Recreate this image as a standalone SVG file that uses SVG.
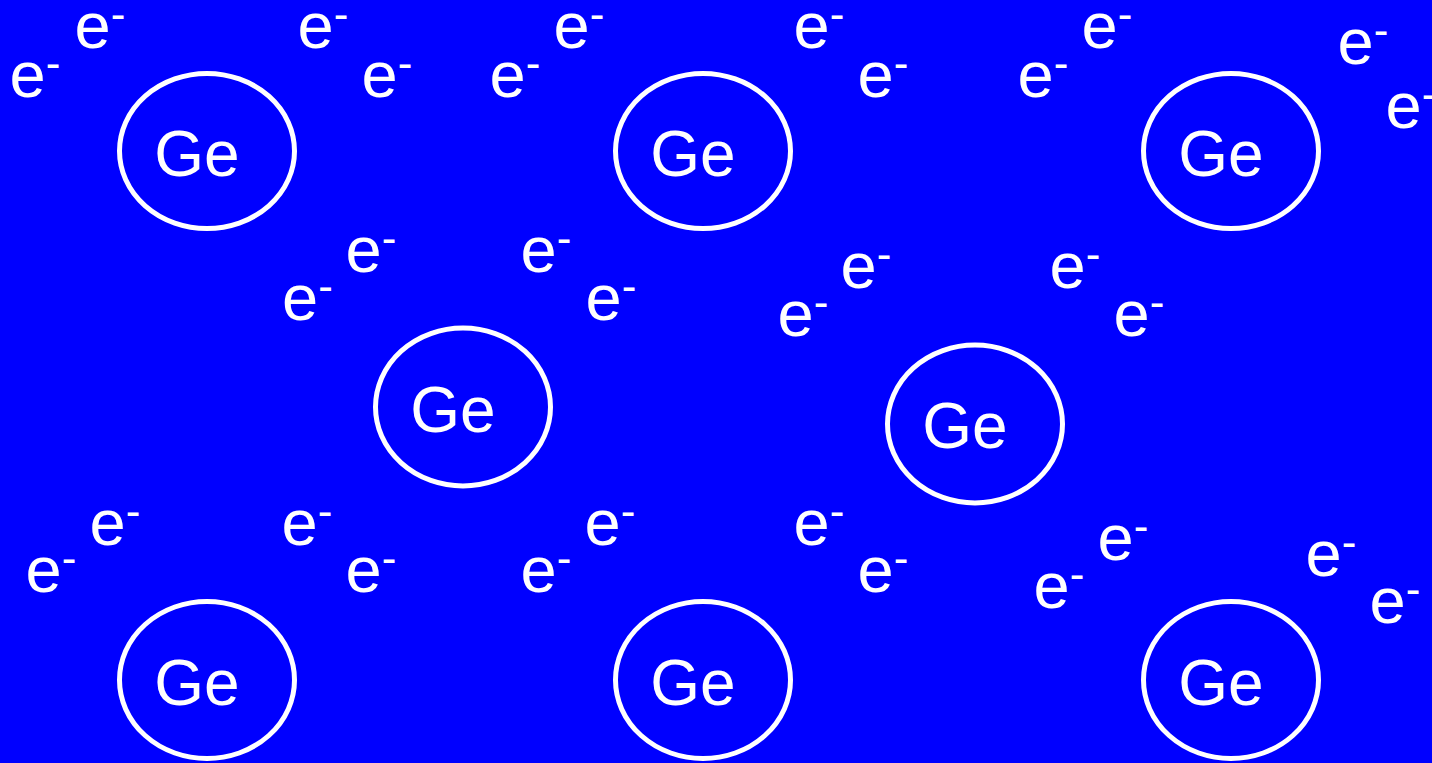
<svg xmlns="http://www.w3.org/2000/svg" width="1432" height="763" viewBox="0 0 1432 763">
<style>
.atom{fill:none;stroke:#fff;stroke-width:5}
.lbl{font-family:"Liberation Sans",Arial,sans-serif;font-size:64px;fill:#fff;text-anchor:middle}
.el{font-family:"Liberation Sans",Arial,sans-serif;font-size:65px;fill:#fff}
.sup{font-size:44px}
</style>
<rect width="1432" height="763" fill="#0000ff"/>
<g id="ge1"><ellipse class="atom" cx="207" cy="151" rx="87.5" ry="77.5"/><text class="lbl" x="197" y="176">Ge</text></g>
<g id="ge2"><ellipse class="atom" cx="703" cy="151" rx="87.5" ry="77.5"/><text class="lbl" x="693" y="176">Ge</text></g>
<g id="ge3"><ellipse class="atom" cx="1231" cy="151" rx="87.5" ry="77.5"/><text class="lbl" x="1221" y="176">Ge</text></g>
<g id="ge4"><ellipse class="atom" cx="463" cy="407" rx="87.5" ry="79"/><text class="lbl" x="453" y="432">Ge</text></g>
<g id="ge5"><ellipse class="atom" cx="975" cy="424" rx="87.5" ry="79"/><text class="lbl" x="965" y="448">Ge</text></g>
<g id="ge6"><ellipse class="atom" cx="207" cy="680" rx="87.5" ry="78.5"/><text class="lbl" x="197" y="705">Ge</text></g>
<g id="ge7"><ellipse class="atom" cx="703" cy="680" rx="87.5" ry="78.5"/><text class="lbl" x="693" y="705">Ge</text></g>
<g id="ge8"><ellipse class="atom" cx="1231" cy="680" rx="87.5" ry="78.5"/><text class="lbl" x="1221" y="705">Ge</text></g>
<g id="electrons">
<text class="el" x="9.5" y="97">e<tspan class="sup" dy="-19">-</tspan></text>
<text class="el" x="74.5" y="48">e<tspan class="sup" dy="-19">-</tspan></text>
<text class="el" x="297.5" y="48">e<tspan class="sup" dy="-19">-</tspan></text>
<text class="el" x="361.5" y="97">e<tspan class="sup" dy="-19">-</tspan></text>
<text class="el" x="489.5" y="97">e<tspan class="sup" dy="-19">-</tspan></text>
<text class="el" x="553.5" y="48">e<tspan class="sup" dy="-19">-</tspan></text>
<text class="el" x="793.5" y="48">e<tspan class="sup" dy="-19">-</tspan></text>
<text class="el" x="857.5" y="97">e<tspan class="sup" dy="-19">-</tspan></text>
<text class="el" x="1017.5" y="97">e<tspan class="sup" dy="-19">-</tspan></text>
<text class="el" x="1081.5" y="48">e<tspan class="sup" dy="-19">-</tspan></text>
<text class="el" x="1337.5" y="64">e<tspan class="sup" dy="-19">-</tspan></text>
<text class="el" x="1385.5" y="128">e<tspan class="sup" dy="-19">-</tspan></text>
<text class="el" x="282" y="320">e<tspan class="sup" dy="-19">-</tspan></text>
<text class="el" x="345.5" y="272">e<tspan class="sup" dy="-19">-</tspan></text>
<text class="el" x="520.5" y="272">e<tspan class="sup" dy="-19">-</tspan></text>
<text class="el" x="585.5" y="320">e<tspan class="sup" dy="-19">-</tspan></text>
<text class="el" x="777.5" y="336">e<tspan class="sup" dy="-19">-</tspan></text>
<text class="el" x="840.5" y="288">e<tspan class="sup" dy="-19">-</tspan></text>
<text class="el" x="1049.5" y="288">e<tspan class="sup" dy="-19">-</tspan></text>
<text class="el" x="1113.5" y="336">e<tspan class="sup" dy="-19">-</tspan></text>
<text class="el" x="25.5" y="592">e<tspan class="sup" dy="-19">-</tspan></text>
<text class="el" x="89.5" y="545">e<tspan class="sup" dy="-19">-</tspan></text>
<text class="el" x="281.5" y="545">e<tspan class="sup" dy="-19">-</tspan></text>
<text class="el" x="345.5" y="592">e<tspan class="sup" dy="-19">-</tspan></text>
<text class="el" x="520.5" y="592">e<tspan class="sup" dy="-19">-</tspan></text>
<text class="el" x="584.5" y="545">e<tspan class="sup" dy="-19">-</tspan></text>
<text class="el" x="793.5" y="545">e<tspan class="sup" dy="-19">-</tspan></text>
<text class="el" x="857.5" y="592">e<tspan class="sup" dy="-19">-</tspan></text>
<text class="el" x="1033.5" y="608">e<tspan class="sup" dy="-19">-</tspan></text>
<text class="el" x="1097.5" y="560">e<tspan class="sup" dy="-19">-</tspan></text>
<text class="el" x="1305.5" y="576">e<tspan class="sup" dy="-19">-</tspan></text>
<text class="el" x="1369.5" y="623">e<tspan class="sup" dy="-19">-</tspan></text>
</g>
</svg>
